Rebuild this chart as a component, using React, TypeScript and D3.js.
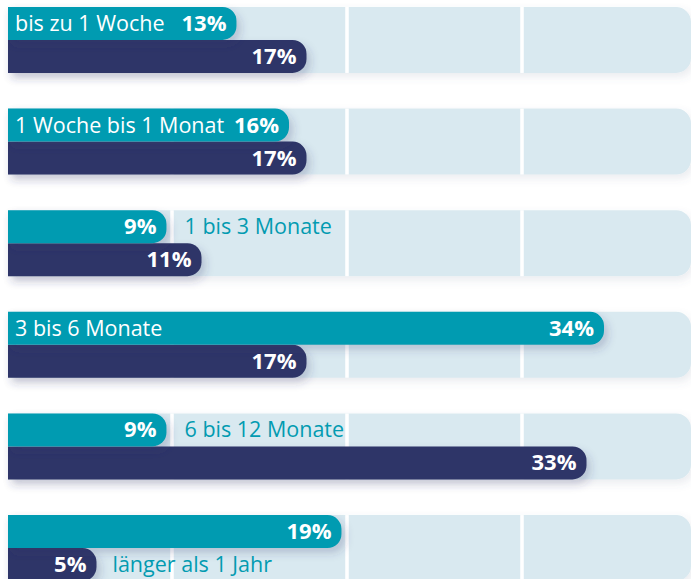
import React from "react";
import * as d3 from "d3";

const categories = [
  "bis zu 1 Woche",
  "1 Woche bis 1 Monat",
  "1 bis 3 Monate",
  "3 bis 6 Monate",
  "6 bis 12 Monate",
  "länger als 1 Jahr",
];
const tealValues = [13, 16, 9, 34, 9, 19];
const navyValues = [17, 17, 11, 17, 33, 5];
// where the category label sits: inside teal bar, after teal bar, after navy bar
const labelPlaces = ["inTeal", "inTeal", "afterTeal", "inTeal", "afterTeal", "afterNavy"];
const gridTicks = [10, 20, 30];

const W = 691;
const H = 579;
const TEAL = "#029bb1";
const NAVY = "#2d3567";
const PANEL = "#d9e9f0";
const FONT = "'Open Sans', 'Noto Sans', sans-serif";

const barPath = (x0: number, x1: number, y: number, h: number, r: number) => {
  const rr = Math.min(r, h / 2, Math.max(0, x1 - x0));
  return `M${x0},${y}H${x1 - rr}A${rr},${rr} 0 0 1 ${x1},${y + rr}V${y + h - rr}A${rr},${rr} 0 0 1 ${x1 - rr},${y + h}H${x0}Z`;
};

export default function App() {
  const left = 8;
  const x = d3.scaleLinear().domain([0, 40]).range([-3, 697]);
  const cap = 12;
  const y = d3
    .scaleBand()
    .domain(categories)
    .range([7, 581])
    .paddingInner(0.351)
    .paddingOuter(0);
  const bw = y.bandwidth();
  const rowH = bw / 2;
  const base = rowH / 2 + 7.5;

  return (
    <svg
      width={W}
      height={H}
      style={{ position: "absolute", left: 0, top: 0, background: "#fff" }}
      fontFamily={FONT}
    >
      <defs>
        <filter id="barShadow" x="-10%" y="-50%" width="130%" height="250%">
          <feDropShadow dx="4" dy="5" stdDeviation="4" floodColor={NAVY} floodOpacity="0.22" />
        </filter>
        <filter id="panelShadow" x="-5%" y="-20%" width="110%" height="160%">
          <feDropShadow dx="3" dy="4" stdDeviation="4" floodColor="#5a6a80" floodOpacity="0.12" />
        </filter>
      </defs>

      {categories.map((c, i) => {
        const top = y(c)!;
        const tealEnd = x(tealValues[i]) + cap;
        const navyEnd = x(navyValues[i]) + cap;
        const place = labelPlaces[i];
        return (
          <g key={c}>
            <path d={barPath(left, W, top, bw, 15)} fill={PANEL} filter="url(#panelShadow)" />
            {gridTicks.map((t) => (
              <rect key={t} x={x(t) - 1.75} y={top} width={3.5} height={bw} fill="#fff" />
            ))}
            <path d={barPath(left, navyEnd, top + rowH, rowH, 14)} fill={NAVY} filter="url(#barShadow)" />
            <path d={barPath(left, tealEnd, top, rowH, 14)} fill={TEAL} filter="url(#barShadow)" />

            <text x={tealEnd - 10} y={top + base} textAnchor="end" fill="#fff" fontWeight="bold" fontSize={22}>
              {tealValues[i]}%
            </text>
            <text
              x={navyEnd - 10}
              y={top + rowH + base}
              textAnchor="end"
              fill="#fff"
              fontWeight="bold"
              fontSize={22}
            >
              {navyValues[i]}%
            </text>

            {place === "inTeal" && (
              <text x={15} y={top + base} fill="#fff" fontSize={21.5}>
                {c}
              </text>
            )}
            {place === "afterTeal" && (
              <text x={tealEnd + 18} y={top + base} fill={TEAL} fontSize={21.5}>
                {c}
              </text>
            )}
            {place === "afterNavy" && (
              <text x={navyEnd + 16} y={top + rowH + base} fill={TEAL} fontSize={21.5}>
                {c}
              </text>
            )}
          </g>
        );
      })}
    </svg>
  );
}
